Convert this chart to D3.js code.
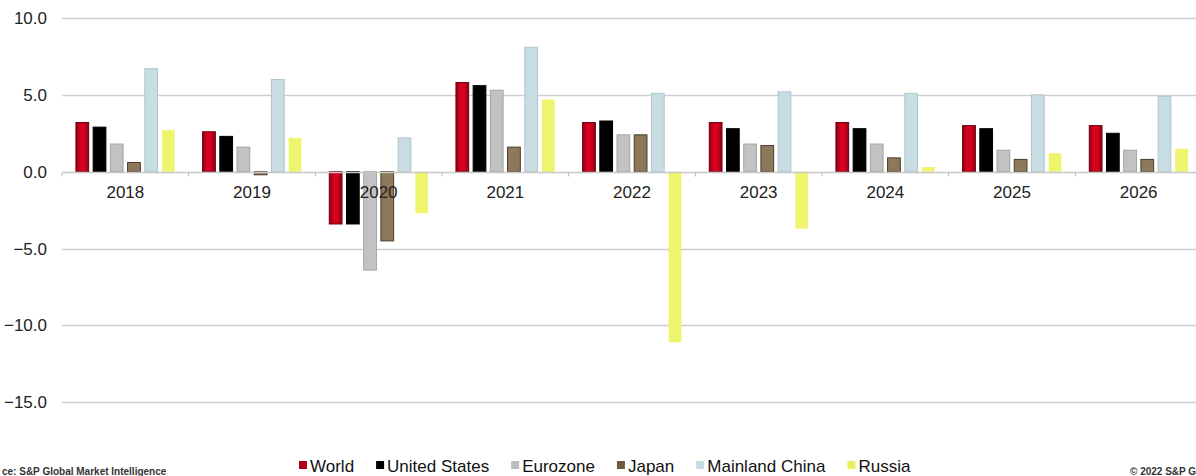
<!DOCTYPE html>
<html>
<head>
<meta charset="utf-8">
<script src="https://cdn.jsdelivr.net/npm/d3@7"></script>
<style>
  html, body { margin: 0; padding: 0; background: #fff; }
  svg { display: block; font-family: "Liberation Sans", Arial, sans-serif; }
</style>
</head>
<body>
<svg id="chart" width="1196" height="476"></svg>
<script>
const years = ["2018","2019","2020","2021","2022","2023","2024","2025","2026"];
const seriesNames = ["World","United States","Eurozone","Japan","Mainland China","Russia"];
const world        = [3.2, 2.6, -3.4, 5.8, 3.2, 3.2, 3.2, 3.0, 3.0];
const unitedStates = [2.9, 2.3, -3.4, 5.6, 3.3, 2.8, 2.8, 2.8, 2.5];
const eurozone     = [1.8, 1.6, -6.4, 5.3, 2.4, 1.8, 1.8, 1.4, 1.4];
const japan        = [0.6, -0.2, -4.5, 1.6, 2.4, 1.7, 0.9, 0.8, 0.8];
const china        = [6.7, 6.0, 2.2, 8.1, 5.1, 5.2, 5.1, 5.0, 4.9];
const russia       = [2.7, 2.2, -2.7, 4.7, -11.1, -3.7, 0.3, 1.2, 1.5];
const yTicks = [10, 5, 0, -5, -10, -15];
const sourceText = "ce: S&P Global Market Intelligence";
const copyrightText = "© 2022 S&P G";

const seriesValues = [world, unitedStates, eurozone, japan, china, russia];
const fills   = ["url(#redGrad)", "#000000", "#c2c2c2", "#8c785b", "#c8dce3", "#eef46c"];
const strokes = ["#6a000e", "#000000", "#a4a4a4", "#4b3b28", "#b2c6cd", "none"];
const legendFills = ["#b0001a", "#000000", "#bdbdbd", "#6e5a40", "#c8dce3", "#e6f05a"];

const svg = d3.select("#chart");
const defs = svg.append("defs");
const g1 = defs.append("linearGradient").attr("id", "redGrad").attr("x1", "0").attr("x2", "1").attr("y1", "0").attr("y2", "0");
g1.append("stop").attr("offset", "0%").attr("stop-color", "#8e0014");
g1.append("stop").attr("offset", "35%").attr("stop-color", "#d6001f");
g1.append("stop").attr("offset", "65%").attr("stop-color", "#d6001f");
g1.append("stop").attr("offset", "100%").attr("stop-color", "#8e0014");

const x0 = d3.scaleBand().domain(years).range([62, 1202]).paddingInner(0).paddingOuter(0);
const x1 = d3.scaleBand().domain(seriesNames).range([0, x0.bandwidth()]).paddingInner(0.26).paddingOuter(0.81);
const y = d3.scaleLinear().domain([-15, 10]).range([402.3, 18]);

// gridlines
svg.append("g").selectAll("line").data(yTicks.filter(d => d !== 0)).join("line")
  .attr("x1", 62).attr("x2", 1196)
  .attr("y1", d => Math.round(y(d)) + 0.5).attr("y2", d => Math.round(y(d)) + 0.5)
  .attr("stroke", "#cfcfcf").attr("stroke-width", 1.5);

// y axis labels
const yAxis = d3.axisLeft(y).tickValues(yTicks).tickFormat(d3.format(".1f")).tickSize(0).tickPadding(15);
const ya = svg.append("g").attr("transform", "translate(62,0)").call(yAxis);
ya.select(".domain").remove();
ya.selectAll("text").attr("font-size", 17).attr("fill", "#222").attr("font-family", "Liberation Sans, Arial, sans-serif");

// bars
const groups = svg.append("g").selectAll("g").data(years).join("g")
  .attr("transform", d => `translate(${x0(d)},0)`);
groups.selectAll("rect").data((yr, i) => seriesNames.map((s, k) => ({ s, k, v: seriesValues[k][i] }))).join("rect")
  .attr("x", d => x1(d.s))
  .attr("width", x1.bandwidth())
  .attr("y", d => y(Math.max(0, d.v)))
  .attr("height", d => Math.abs(y(d.v) - y(0)))
  .attr("fill", d => fills[d.k])
  .attr("stroke", d => strokes[d.k])
  .attr("stroke-width", 1);

// zero axis with ticks
const xAxis = d3.axisBottom(x0).tickSize(0).tickFormat("");
const zeroY = Math.round(y(0)) + 0.5;
svg.append("line").attr("x1", 62).attr("x2", 1196).attr("y1", zeroY).attr("y2", zeroY)
  .attr("stroke", "#c8c8c8").attr("stroke-width", 1.5);
const boundaries = years.map(d => x0(d)).concat([x0.range()[1]]);
svg.append("g").selectAll("line").data(boundaries).join("line")
  .attr("x1", d => d).attr("x2", d => d).attr("y1", zeroY).attr("y2", zeroY + 4)
  .attr("stroke", "#b8b8b8").attr("stroke-width", 1);

// x labels
const xa = svg.append("g").attr("transform", `translate(0,${zeroY})`).call(xAxis.tickPadding(0));
xa.select(".domain").remove();
xa.selectAll(".tick text").remove();
xa.selectAll(".tick").append("text")
  .attr("y", 25).attr("text-anchor", "middle")
  .attr("font-size", 17).attr("fill", "#222")
  .text(d => d);

// legend
const legend = svg.append("g");
let lx = 299;
seriesNames.forEach((name, k) => {
  legend.append("rect").attr("x", lx).attr("y", 461).attr("width", 8).attr("height", 8).attr("fill", legendFills[k]);
  const t = legend.append("text").attr("x", lx + 11).attr("y", 471.5).attr("font-size", 17).attr("fill", "#111").text(name);
  lx = lx + 11 + t.node().getComputedTextLength() + 22;
});

// source / copyright
svg.append("text").attr("x", 2).attr("y", 475).attr("font-size", 10).attr("font-weight", "bold").attr("fill", "#333")
  .text(sourceText);
svg.append("text").attr("x", 1130).attr("y", 475).attr("font-size", 10).attr("font-weight", "bold").attr("fill", "#333")
  .text(copyrightText);
</script>
</body>
</html>
